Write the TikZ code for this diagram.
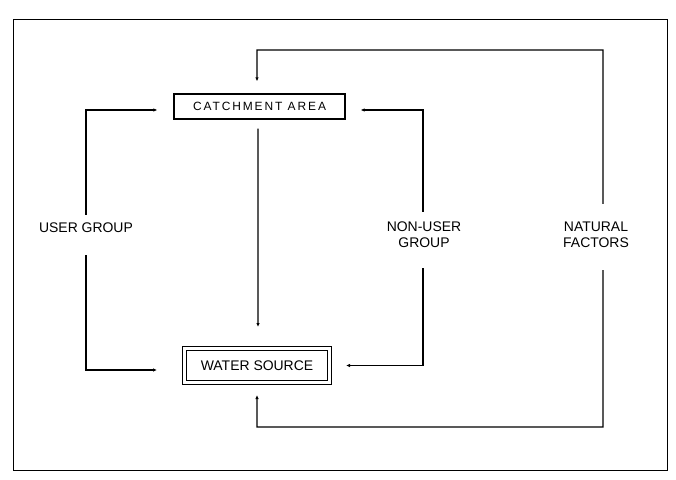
\documentclass[tikz,border=0pt]{standalone}
\usepackage{fontspec}
\setmainfont{Liberation Sans}
\usetikzlibrary{arrows.meta}
\tikzset{
  conn/.style={line width=1.1bp, -{Latex[length=4bp,width=3.5bp]}},
  lbl/.style={inner sep=0pt, font=\fontsize{14}{16}\selectfont, align=center},
  catchbox/.style={draw, line width=1.3bp, inner sep=0pt, minimum width=171bp, minimum height=25bp,
     font=\fontsize{12}{14}\selectfont\addfontfeatures{LetterSpace=16}},
  waterbox/.style={draw, double, double distance=3bp, line width=1bp, inner sep=0pt,
     minimum width=145bp, minimum height=34bp, font=\fontsize{14}{16}\selectfont},
  frame/.style={draw, line width=1bp}
}
\begin{document}
\begin{tikzpicture}[x=1bp,y=-1bp]
\useasboundingbox (0,0) rectangle (676,480);
\draw[frame] (13,20) rectangle (667,470);
\node[catchbox] (catch) at (259.5,106.5) {CATCHMENT AREA};
\node[waterbox] (water) at (257,365.5) {WATER SOURCE};
\node[lbl] (user) at (86,228) {USER GROUP};
\node[lbl] (nonuser) at (424,235) {NON-USER\\GROUP};
\node[lbl] (natural) at (596,235) {NATURAL\\FACTORS};
\coordinate (nt) at (603,50);
\coordinate (nb) at (603,427);
% user group
\draw[conn, shorten >=16bp] ([yshift=13bp]user.center) |- ([yshift=-3.5bp]catch.west);
\draw[conn, shorten >=27bp] ([yshift=-27bp]user.center) |- ([yshift=-4.5bp]water.west);
% non-user group
\draw[conn, shorten >=15bp] ([xshift=-1bp,yshift=23bp]nonuser.center) |- ([yshift=-3.5bp]catch.east);
\draw[conn, shorten >=16bp] ([xshift=-1bp,yshift=-33bp]nonuser.center) |- (water.east);
% centre
\draw[conn, shorten <=9bp, shorten >=21bp] ([xshift=-1.5bp]catch.south) -- ([xshift=1bp]water.north);
% natural factors
\draw[conn, shorten >=12bp] ([xshift=7bp,yshift=31bp]natural.center) -- (nt) -| ([xshift=-2.5bp]catch.north);
\draw[conn, shorten >=12bp] ([xshift=7bp,yshift=-35bp]natural.center) -- (nb) -| (water.south);
\end{tikzpicture}
\end{document}
